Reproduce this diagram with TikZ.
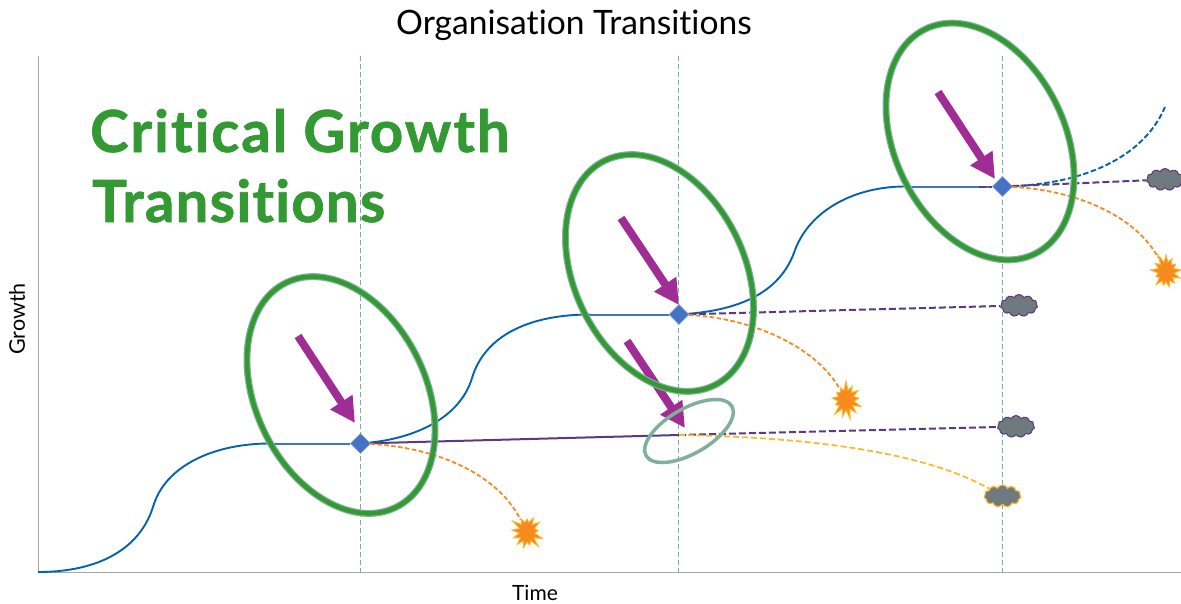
\documentclass[tikz,border=0pt]{standalone}
\usepackage{fontspec}
\setmainfont[Ligatures=NoCommon]{Lato}
\newfontfamily\headfont[Ligatures=NoCommon,LetterSpace=3.5,FakeBold=1.2]{Lato Bold}
\newfontfamily\headfontb[Ligatures=NoCommon,LetterSpace=2.2,FakeBold=1.2]{Lato Bold}
\usetikzlibrary{arrows.meta,shapes.geometric,shapes.symbols,backgrounds}
\definecolor{curveblue}{HTML}{0563AE}
\definecolor{flatblue}{HTML}{4472C4}
\definecolor{plum}{HTML}{5B3A7E}
\definecolor{burst}{HTML}{F58A1F}
\definecolor{amber}{HTML}{FDB92E}
\definecolor{ringgreen}{HTML}{339933}
\definecolor{ringedge}{HTML}{7FB09A}
\definecolor{guide}{HTML}{6FB59B}
\definecolor{arrowpurple}{HTML}{A02D96}
\definecolor{cloudgrey}{HTML}{6F7A7E}
\tikzset{
  x=1pt,y=-1pt,
  axisline/.style={draw=black!35,line width=0.8pt},
  guideline/.style={draw=guide,line width=1.1pt,dash pattern=on 5pt off 3pt},
  bluecurve/.style={draw=curveblue,line width=1.9pt},
  flatline/.style={draw=flatblue,line width=2pt},
  bluedash/.style={bluecurve,dash pattern=on 5.5pt off 2.5pt},
  plumline/.style={draw=plum,line width=2pt},
  plumdash/.style={plumline,dash pattern=on 7pt off 3pt},
  orangedash/.style={draw=burst,line width=1.8pt,dash pattern=on 4.5pt off 2.5pt},
  yellowdash/.style={draw=amber,line width=1.8pt,dash pattern=on 6pt off 3pt},
  pointer/.style={draw=arrowpurple,line width=8pt,-{Triangle[length=25pt,width=25pt]}},
  ring/.style={ellipse,inner sep=0pt,draw=ringedge,double=ringgreen,line width=1.2pt,double distance=4.5pt,rotate=-64,minimum width=250pt,minimum height=170pt},
  thinring/.style={ellipse,inner sep=0pt,draw=ringedge,line width=3.5pt,rotate=30,minimum width=99pt,minimum height=45pt},
  point/.style={diamond,fill=flatblue,draw=flatblue!70!white,line width=0.6pt,inner sep=0pt,minimum size=20pt},
  spark/.style={starburst,starburst points=13,starburst point height=10pt,fill=burst,draw=amber,line width=0.9pt,inner sep=0pt,minimum width=36pt,minimum height=40pt},
  puff/.style={cloud,cloud puffs=11,cloud puff arc=130,aspect=1.7,fill=cloudgrey,inner sep=0pt,minimum width=37pt,minimum height=22pt},
  plumpuff/.style={puff,draw=plum,line width=1pt},
  amberpuff/.style={puff,draw=amber,line width=1.2pt},
}
\begin{document}
\begin{tikzpicture}
\useasboundingbox (0,0) rectangle (1181,603);
% plain points and end markers (painted on top)
\node[point] (d1) at (360.5,443.5) {};
\node[point] (d2) at (679,314.5) {};
\node[point] (d3) at (1002.5,186.5) {};
\node[spark,random starburst=3] (s1) at (527,532) {};
\node[spark,random starburst=7] (s2) at (846,400) {};
\node[spark,random starburst=11] (s3) at (1166,272) {};
\node[plumpuff] (c1) at (1016,426.5) {};
\node[plumpuff] (c2) at (1019,305.5) {};
\node[plumpuff] (c3) at (1165,179.5) {};
\node[amberpuff] (c4) at (1002.5,496) {};
% free ends
\coordinate (o) at (38,572);
\coordinate (ytop) at (38,56);
\coordinate (xend) at (1181,572);
\coordinate (g1a) at (360.5,56); \coordinate (g1b) at (360.5,572);
\coordinate (g2a) at (678.5,56); \coordinate (g2b) at (678.5,572);
\coordinate (g3a) at (1002.5,56);  \coordinate (g3b) at (1002.5,572);
\coordinate (k1) at (153,507);
\coordinate (f1) at (270,443.5);
\coordinate (k2) at (472,378);
\coordinate (f2) at (590,314.5);
\coordinate (k3) at (795,250);
\coordinate (f3) at (905,186.5);
\coordinate (tail) at (1165,107);
\coordinate (j) at (679,435);
\coordinate (p3) at (979,186.5);
\coordinate (a1) at (298,336); \coordinate (b1) at (355,423);
\coordinate (a2) at (621,218); \coordinate (b2) at (679,305);
\coordinate (a3) at (938,92);  \coordinate (b3) at (995,179);
\coordinate (a4) at (627,341); \coordinate (b4) at (685,428);
\begin{scope}[on background layer]
  \draw[axisline] (ytop) -- (o) -- (xend);
  \draw[guideline] (g1a) -- (g1b);
  \draw[guideline] (g2a) -- (g2b);
  \draw[guideline] (g3a) -- (g3b);
  \draw[bluecurve] (o) .. controls (100,572) and (140,548) .. (k1);
  \draw[bluecurve] (k1) .. controls (165,465) and (215,443.5) .. (f1);
  \draw[flatline] (f1) -- (d1);
  \draw[bluecurve] (d1) .. controls (415,438) and (460,418) .. (k2);
  \draw[bluecurve] (k2) .. controls (485,335) and (530,314.5) .. (f2);
  \draw[flatline] (f2) -- (d2);
  \draw[bluecurve] (d2) .. controls (735,310) and (780,295) .. (k3);
  \draw[bluecurve] (k3) .. controls (810,210) and (855,186.5) .. (f3);
  \draw[flatline] (f3) -- (d3);
  \draw[bluedash] (d3) .. controls (1070,184) and (1140,165) .. (tail);
  \draw[plumline] (d1) -- (j);
  \draw[plumdash] (j) -- (c1);
  \draw[plumdash] (d2) -- (c2);
  \draw[plumdash] (p3) -- (d3);
  \draw[plumdash] (d3) -- (c3);
  \draw[orangedash] (d1) .. controls (430,447) and (495,470) .. (s1);
  \draw[orangedash] (d2) .. controls (750,318) and (815,345) .. (s2);
  \draw[orangedash] (d3) .. controls (1075,190) and (1135,215) .. (s3);
  \draw[yellowdash] (j) .. controls (800,437) and (920,450) .. (c4);
  \draw[pointer] (a1) -- (b1);
  \draw[pointer] (a2) -- (b2);
  \draw[pointer] (a3) -- (b3);
  \draw[pointer] (a4) -- (b4);
  \node[ring] (r1) at (341,395) {};
  \node[ring] (r2) at (659.5,273) {};
  \node[ring] (r3) at (980,141.5) {};
  \node[thinring] (r4) at (689,431) {};
\end{scope}
\node[font=\fontsize{33.6}{38}\selectfont] (title) at (574,25) {Organisation Transitions};
\node[font=\fontsize{21}{25}\selectfont] (xlab) at (535,593) {Time};
\node[font=\fontsize{21.5}{25}\selectfont,rotate=90] (ylab) at (17,319) {Growth};
\node[font=\headfont\fontsize{58}{70}\selectfont,text=ringgreen,anchor=base west,inner sep=0pt] (head1) at (90,152) {Critical Growth};
\node[font=\headfontb\fontsize{58}{70}\selectfont,text=ringgreen,anchor=base west,inner sep=0pt] (head2) at (92,222) {Transitions};
\end{tikzpicture}
\end{document}
